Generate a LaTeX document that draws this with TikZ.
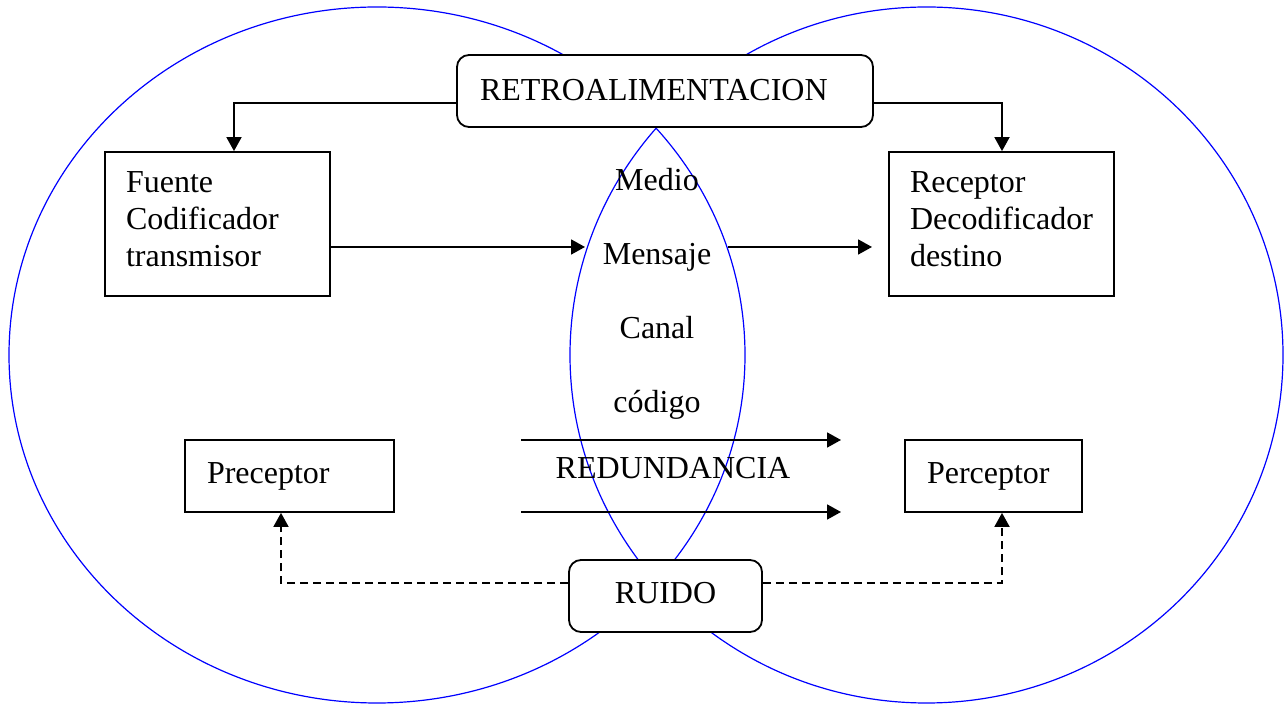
\documentclass[tikz,border=0pt]{standalone}
\usepackage{fontspec}
\setmainfont{Liberation Serif}
\usetikzlibrary{arrows.meta}
\tikzset{
  caja/.style={draw,fill=white,align=left,inner ysep=0pt,minimum height=36pt},
  ovalo/.style={blue,line width=0.6pt},
  ruidoline/.style={dash pattern=on 4pt off 2.5pt}
}
\begin{document}
\begin{tikzpicture}[x=0.5pt,y=-0.5pt,>={Triangle[length=7pt,width=7.5pt]},line width=0.9pt,
    font=\fontsize{16}{18.3}\selectfont]
            \useasboundingbox (0,0) rectangle (1285,704);
            % los dos ovalos
            \draw[ovalo] (377,355) ellipse [x radius=368,y radius=348];
            \draw[ovalo] (926.5,355) ellipse [x radius=356.5,y radius=348];
            % cajas
            \node[caja,rounded corners=6pt,text width=185pt,inner xsep=11.5pt,text depth=1pt] (retro) at (665,91) {RETROALIMENTACION};
            \node[caja,text width=91.5pt,inner xsep=10.5pt,minimum height=72pt,text depth=41.6pt] (fuente) at (217.5,224) {Fuente\\Codificador\\transmisor};
            \node[caja,text width=91.5pt,inner xsep=10.5pt,minimum height=72pt,text depth=41.6pt] (receptor) at (1001.5,224) {Receptor\\Decodificador\\destino};
            \node[caja,text width=82.5pt,inner xsep=11pt] (preceptor) at (289.5,476) {Preceptor};
            \node[caja,text width=66.5pt,inner xsep=11pt] (perceptor) at (993.5,476) {Perceptor};
            \node[caja,rounded corners=6pt,align=center,minimum width=96.5pt,text depth=3pt] (ruido) at (665.5,596) {RUIDO};
            \node[align=center,font=\fontsize{16}{37}\selectfont] (medio) at (657,294) {Medio\\Mensaje\\Canal\\código};
            \node (redundancia) at (673,468) {REDUNDANCIA};
            % retroalimentacion
            \coordinate (fbl) at (234,103);
            \coordinate (fbr) at (1002,103);
            \draw[->] (retro.west |- fbl) -| (fbl |- fuente.north);
            \draw[->] (retro.east |- fbr) -| (fbr |- receptor.north);
            % mensaje
            \coordinate (msgin) at (585,247);
            \coordinate (msgout) at (728,247);
            \coordinate (msgend) at (872,247);
            \draw[->] (fuente.east |- msgin) -- (msgin);
            \draw[->] (msgout) -- (msgend);
            % redundancia
            \foreach \n/\y in {a/440,b/512}{
                \coordinate (red\n) at (521,\y);
                \coordinate (red\n end) at (841,\y);
                \draw[->] (red\n) -- (red\n end);
            }
            % ruido
            \coordinate (nl) at (281,583);
            \coordinate (nr) at (1002,583);
            \draw[->,ruidoline] (ruido.west |- nl) -| (nl |- preceptor.south);
            \draw[->,ruidoline] (ruido.east |- nr) -| (nr |- perceptor.south);
    \end{tikzpicture}
\end{document}
